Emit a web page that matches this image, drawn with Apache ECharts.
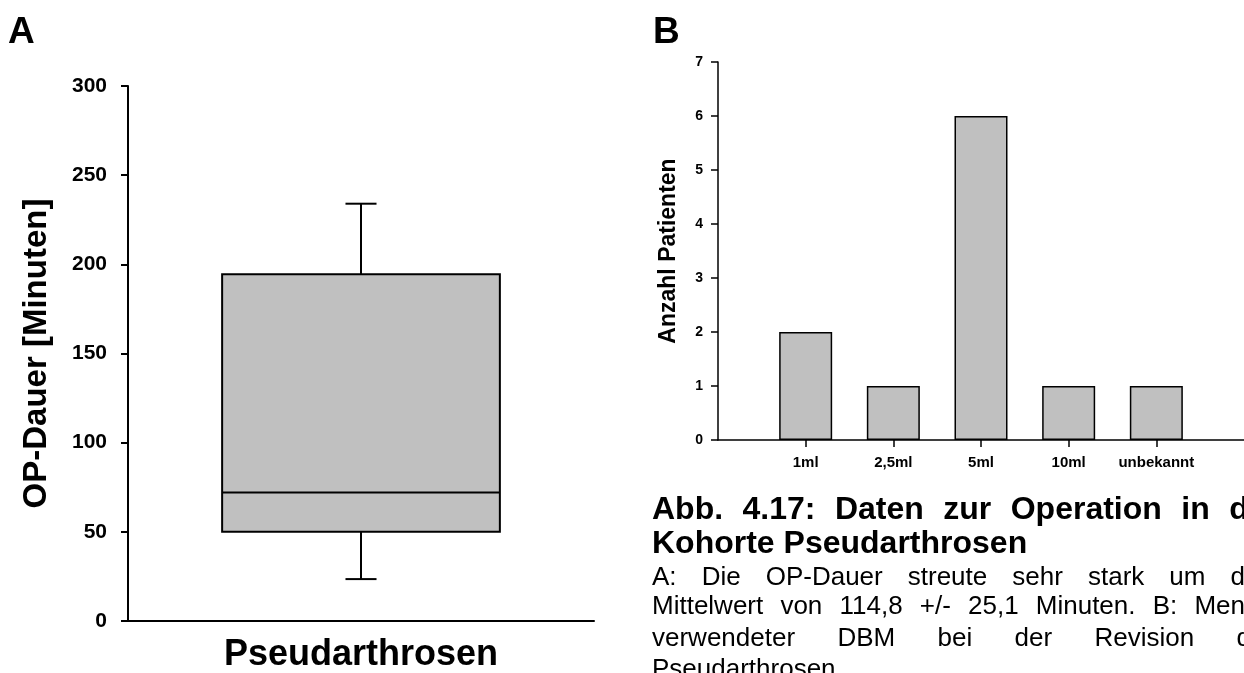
<!DOCTYPE html>
<html>
<head>
<meta charset="utf-8">
<script src="https://cdn.jsdelivr.net/npm/echarts@6/dist/echarts.min.js"></script>
<style>
  html, body { margin: 0; padding: 0; background: #fff; overflow: hidden; width: 1244px; height: 673px; }
  #chart { position: absolute; left: 0; top: 0; width: 1244px; height: 673px; }
  .cap { position: absolute; left: 652px; white-space: nowrap; color: #000;
         font-family: 'Liberation Sans', Arial, sans-serif; }
  .just { display: flex; justify-content: space-between; }
  .ttl { font-weight: bold; font-size: 32px; line-height: 32px; }
  .txt { font-size: 26px; line-height: 26px; }
</style>
</head>
<body>
<div id="chart"></div>
<div id="caption"></div>
<script>
// ---- Panel A: operation time (box plot) ----
const durationCategories = ['Pseudarthrosen'];
// lower whisker, Q1, median, Q3, upper whisker (minutes)
const durationStats = [[23.5, 50, 72, 194.5, 234]];
const durationTicks = [0, 50, 100, 150, 200, 250, 300];

// ---- Panel B: amount of DBM used ----
const dbmCategories = ['1ml', '2,5ml', '5ml', '10ml', 'unbekannt'];
const patientCounts = [2, 1, 6, 1, 1];
const countTicks = [0, 1, 2, 3, 4, 5, 6, 7];

// ---- Caption ----
const captionTitle = [
  ['Abb.', '4.17:', 'Daten', 'zur', 'Operation', 'in', 'der'],
  ['Kohorte Pseudarthrosen']
];
const captionBody = [
  ['A:', 'Die', 'OP-Dauer', 'streute', 'sehr', 'stark', 'um', 'den'],
  ['Mittelwert', 'von', '114,8', '+/-', '25,1', 'Minuten.', 'B:', 'Menge'],
  ['verwendeter', 'DBM', 'bei', 'der', 'Revision', 'der'],
  ['Pseudarthrosen.']
];

const FONT = "'Liberation Sans', Arial, sans-serif";
const BLACK = '#000';
const GREY = '#c0c0c0';

// caption layout: line tops and justified widths (null = left aligned last line)
const titleLayout = [{ top: 492, width: 627 }, { top: 526, width: null }];
const bodyLayout = [
  { top: 563, width: 622 }, { top: 592, width: 622 },
  { top: 624, width: 622 }, { top: 655, width: null }
];
const capHost = document.getElementById('caption');
function addLines(lines, layout, cls) {
  lines.forEach((words, i) => {
    const div = document.createElement('div');
    div.className = 'cap ' + cls + (layout[i].width ? ' just' : '');
    div.style.top = layout[i].top + 'px';
    if (layout[i].width) {
      div.style.width = layout[i].width + 'px';
      words.forEach(w => {
        const s = document.createElement('span');
        s.textContent = w;
        div.appendChild(s);
      });
    } else {
      div.textContent = words.join(' ');
    }
    capHost.appendChild(div);
  });
}
addLines(captionTitle, titleLayout, 'ttl');
addLines(captionBody, bodyLayout, 'txt');

// box with narrow whisker caps
function renderBox(params, api) {
  const i = api.value(0);
  const lo = api.coord([i, api.value(1)]);
  const q1 = api.coord([i, api.value(2)]);
  const md = api.coord([i, api.value(3)]);
  const q3 = api.coord([i, api.value(4)]);
  const hi = api.coord([i, api.value(5)]);
  const band = api.size([1, 0])[0];
  const half = band * 0.298;
  const cap = band * 0.0333;
  const cx = md[0];
  const ls = { stroke: BLACK, lineWidth: 2 };
  return {
    type: 'group',
    children: [
      { type: 'line', shape: { x1: cx, y1: q3[1], x2: cx, y2: hi[1] }, style: ls },
      { type: 'line', shape: { x1: cx - cap, y1: hi[1], x2: cx + cap, y2: hi[1] }, style: ls },
      { type: 'line', shape: { x1: cx, y1: q1[1], x2: cx, y2: lo[1] }, style: ls },
      { type: 'line', shape: { x1: cx - cap, y1: lo[1], x2: cx + cap, y2: lo[1] }, style: ls },
      { type: 'rect', shape: { x: cx - half, y: q3[1], width: 2 * half, height: q1[1] - q3[1] },
        style: { fill: GREY, stroke: BLACK, lineWidth: 2 } },
      { type: 'line', shape: { x1: cx - half, y1: md[1], x2: cx + half, y2: md[1] }, style: ls }
    ]
  };
}

const dbmPositions = dbmCategories.map((c, i) => i + 1);

const chart = echarts.init(document.getElementById('chart'), null, { renderer: 'canvas' });
chart.setOption({
  animation: false,
  backgroundColor: '#fff',
  textStyle: { fontFamily: FONT },
  grid: [
    { left: 128, top: 86, width: 466, height: 535 },
    { left: 718, top: 62, right: 0, height: 378 }
  ],
  xAxis: [
    {
      gridIndex: 0, type: 'category', data: durationCategories,
      axisLine: { lineStyle: { color: BLACK, width: 2 } },
      axisTick: { alignWithLabel: true, length: 7, lineStyle: { color: BLACK, width: 2 } },
      axisLabel: { color: BLACK, fontSize: 36, fontWeight: 'bold', fontFamily: FONT, margin: 16 },
      splitLine: { show: false }
    },
    {
      gridIndex: 1, type: 'value', min: 0, max: dbmCategories.length + 1, interval: 1,
      axisLine: { lineStyle: { color: BLACK, width: 1.5 } },
      axisTick: { customValues: dbmPositions, length: 7, lineStyle: { color: BLACK, width: 1.5 } },
      axisLabel: {
        customValues: dbmPositions, color: BLACK, fontSize: 15, fontWeight: 'bold',
        fontFamily: FONT, margin: 15,
        formatter: v => dbmCategories[v - 1] || ''
      },
      splitLine: { show: false }
    }
  ],
  yAxis: [
    {
      gridIndex: 0, type: 'value',
      min: durationTicks[0], max: durationTicks[durationTicks.length - 1],
      interval: durationTicks[1] - durationTicks[0],
      name: 'OP-Dauer [Minuten]', nameLocation: 'middle', nameGap: 75,
      nameTextStyle: { color: BLACK, fontSize: 33, fontWeight: 'bold', fontFamily: FONT },
      axisLine: { show: true, lineStyle: { color: BLACK, width: 2 } },
      axisTick: { show: true, length: 7, lineStyle: { color: BLACK, width: 2 } },
      axisLabel: { color: BLACK, fontSize: 21, fontWeight: 'bold', fontFamily: FONT, margin: 21 },
      splitLine: { show: false }
    },
    {
      gridIndex: 1, type: 'value',
      min: countTicks[0], max: countTicks[countTicks.length - 1],
      interval: countTicks[1] - countTicks[0],
      name: 'Anzahl Patienten', nameLocation: 'middle', nameGap: 38,
      nameTextStyle: { color: BLACK, fontSize: 23, fontWeight: 'bold', fontFamily: FONT },
      axisLine: { show: true, lineStyle: { color: BLACK, width: 1.5 } },
      axisTick: { show: true, length: 7, lineStyle: { color: BLACK, width: 1.5 } },
      axisLabel: { color: BLACK, fontSize: 14, fontWeight: 'bold', fontFamily: FONT, margin: 15 },
      splitLine: { show: false }
    }
  ],
  series: [
    {
      type: 'custom', xAxisIndex: 0, yAxisIndex: 0,
      data: durationStats.map((s, i) => [i].concat(s)),
      encode: { x: 0, y: [1, 2, 3, 4, 5] },
      renderItem: renderBox
    },
    {
      type: 'bar', xAxisIndex: 1, yAxisIndex: 1,
      data: patientCounts.map((v, i) => [dbmPositions[i], v]),
      barWidth: 53,
      itemStyle: { color: GREY, borderColor: BLACK, borderWidth: 1.5 }
    }
  ],
  graphic: [
    { type: 'text', left: 8, top: 14, style: { text: 'A', font: 'bold 37px ' + FONT, fill: BLACK } },
    { type: 'text', left: 653, top: 14, style: { text: 'B', font: 'bold 37px ' + FONT, fill: BLACK } }
  ]
});
</script>
</body>
</html>
